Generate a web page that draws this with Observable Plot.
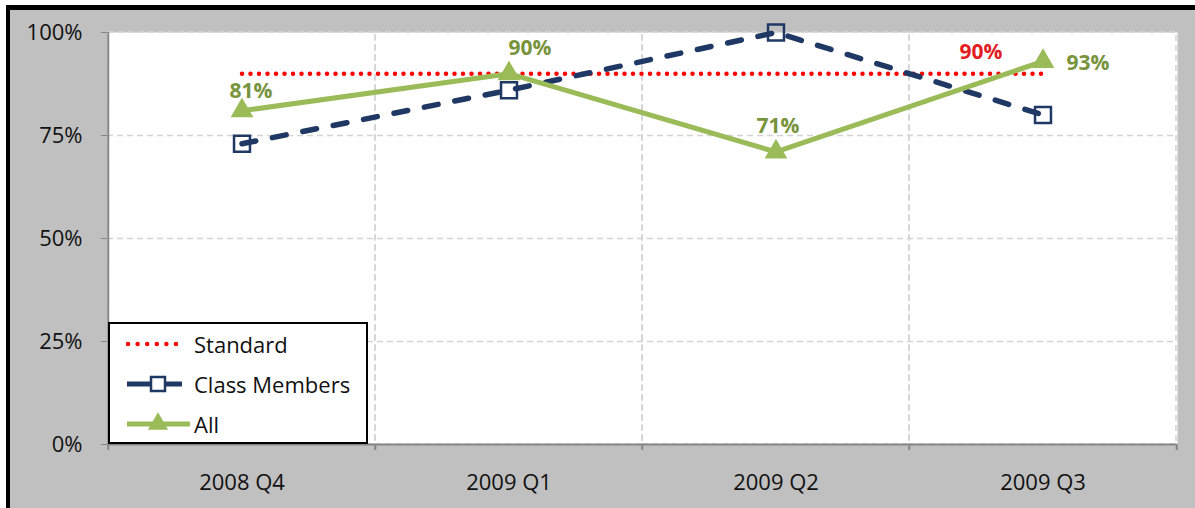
<!DOCTYPE html>
<html><head><meta charset="utf-8">
<script src="https://cdn.jsdelivr.net/npm/d3@7"></script>
<script src="https://cdn.jsdelivr.net/npm/@observablehq/plot@0.6"></script>
<style>
html,body{margin:0;padding:0;background:#fff;}
#wrap{position:relative;width:1195px;height:508px;overflow:hidden;font-family:"Open Sans",sans-serif;}
#frame{position:absolute;left:6px;top:5px;right:0;bottom:0;background:#c0c0c0;border-left:4px solid #000;border-top:5px solid #000;}
#chart{position:absolute;left:0;top:0;}
#legend{position:absolute;left:108px;top:322px;width:256px;height:118px;background:#fff;border:2px solid #000;}
.row{position:absolute;left:0;height:40px;width:256px;}
.row svg{position:absolute;left:0;top:0;}
.row span{position:absolute;left:84px;top:0;line-height:40px;font-size:22px;color:#111;white-space:nowrap;}
</style>
</head><body>
<div id="wrap"><div id="frame"></div><div id="chart"></div><div id="legend"></div></div>
<script>
const categories = ["2008 Q4","2009 Q1","2009 Q2","2009 Q3"];
const standard = [0.90,0.90,0.90,0.90];
const classMembers = [0.73,0.86,1.00,0.80];
const all = [0.81,0.90,0.71,0.93];
const yTicks = [0,0.25,0.5,0.75,1];
const seriesNames = ["Standard","Class Members","All"];
const allLabels = ["81%","90%","71%","93%"];
const standardLabel = "90%";

const data = categories.map((c,i)=>({cat:c, standard:standard[i], cm:classMembers[i], all:all[i]}));

const RED="#ff0000", NAVY="#1f3864", GREEN="#9bbb59", LABELGREEN="#77933c", LABELRED="#e31b23";
const GRID="#d4d4d4", AXIS="#868686";
const W=1195,H=508,mL=107,mR=18,mT=32,mB=64;
const bw=(W-mL-mR)/categories.length;
const allOffsets=[[9,-20],[21,-25],[2,-26],[45,2]];
const last=categories.length-1;

const chart = Plot.plot({
  width:W,height:H,marginLeft:mL,marginRight:mR,marginTop:mT,marginBottom:mB,
  style:{background:"transparent",fontFamily:"Open Sans",fontSize:"22px",overflow:"visible"},
  x:{type:"band",domain:categories,padding:0,axis:null,label:null},
  y:{domain:[0,1],axis:null,label:null},
  marks:[
    Plot.frame({fill:"white",stroke:"none"}),
    Plot.cell(categories,{x:d=>d,fill:"none",stroke:GRID,strokeDasharray:"6,4",strokeWidth:1.5,inset:0}),
    Plot.ruleY([0.25,0.5,0.75],{stroke:GRID,strokeDasharray:"6,4",strokeWidth:1.5}),
    Plot.ruleX([categories[0]],{x:d=>d,dx:-bw/2,stroke:AXIS,strokeWidth:2}),
    Plot.ruleY([0],{stroke:AXIS,strokeWidth:2}),
    Plot.ruleX(categories,{x:d=>d,dx:-bw/2,y1:0,y2:0,insetTop:6,stroke:AXIS,strokeWidth:2}),
    Plot.ruleX([categories[last]],{x:d=>d,dx:bw/2,y1:0,y2:0,insetTop:6,stroke:AXIS,strokeWidth:2}),
    Plot.axisY({ticks:yTicks,tickFormat:d3.format(".0%"),tickSize:6,tickPadding:19,stroke:AXIS,fill:"#111",fontSize:22,label:null}),
    Plot.axisX({tickSize:0,tickPadding:30,fill:"#111",fontSize:22,label:null}),
    Plot.line(data,{x:"cat",y:"standard",stroke:RED,strokeWidth:4.5,strokeDasharray:"0,8.5",strokeLinecap:"round"}),
    Plot.line(data,{x:"cat",y:"cm",stroke:NAVY,strokeWidth:5.5,strokeDasharray:"14,17",strokeLinecap:"round"}),
    Plot.line(data,{x:"cat",y:"all",stroke:GREEN,strokeWidth:5,strokeLinejoin:"round"}),
    Plot.dot(data,{x:"cat",y:"cm",symbol:"square",r:9,stroke:NAVY,strokeWidth:2.5,fill:"none"}),
    Plot.dot(data,{x:"cat",y:"all",symbol:"triangle",r:7.5,fill:GREEN,stroke:GREEN}),
    ...allOffsets.map(([dx,dy],i)=>Plot.text([data[i]],{x:"cat",y:"all",text:()=>allLabels[i],dx,dy,fill:LABELGREEN,fontWeight:"bold",fontSize:21})),
    Plot.text([data[last]],{x:"cat",y:"standard",text:()=>standardLabel,dx:-62,dy:-21,fill:LABELRED,fontWeight:"bold",fontSize:21})
  ]
});
document.getElementById("chart").appendChild(chart);

// legend
const legend=document.getElementById("legend");
const sym=[
  `<line x1="18" y1="20" x2="72" y2="20" stroke="${RED}" stroke-width="4.5" stroke-dasharray="0,9.6" stroke-linecap="round"/>`,
  `<line x1="17" y1="20" x2="72" y2="20" stroke="${NAVY}" stroke-width="5"/><rect x="41" y="13" width="14" height="14" fill="#fff" stroke="${NAVY}" stroke-width="2.5"/>`,
  `<line x1="17" y1="20" x2="80" y2="20" stroke="${GREEN}" stroke-width="5"/><path d="${d3.symbol(d3.symbolTriangle,Math.PI*7.5*7.5)()}" transform="translate(48,20)" fill="${GREEN}"/>`
];
seriesNames.forEach((name,i)=>{
  const row=document.createElement("div");
  row.className="row";row.style.top=(i*40)+"px";
  row.innerHTML=`<svg width="84" height="40">${sym[i]}</svg><span>${name}</span>`;
  legend.appendChild(row);
});
</script>
</body></html>
